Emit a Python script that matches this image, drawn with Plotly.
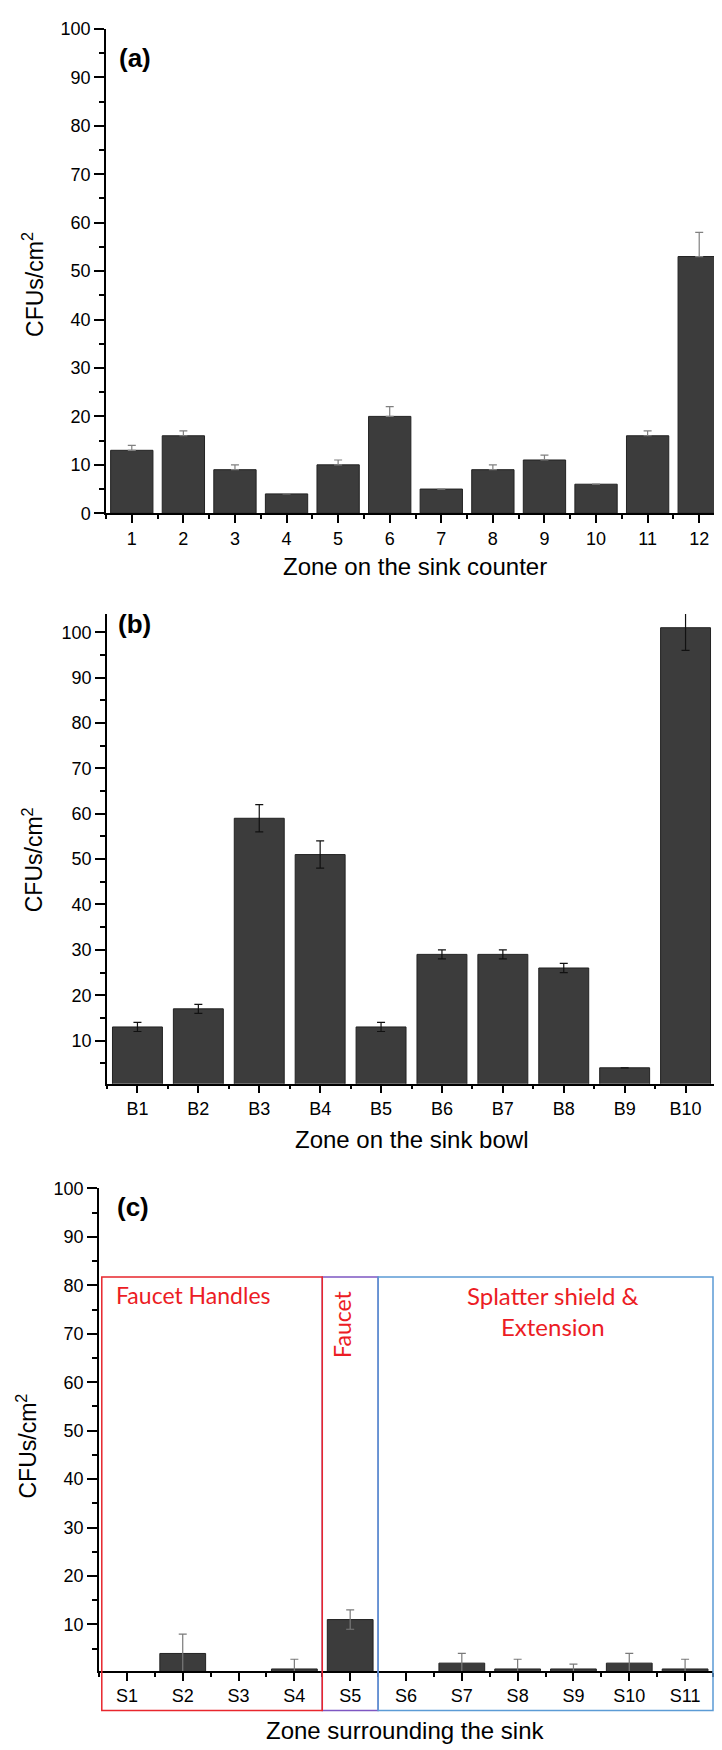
import plotly.graph_objects as go

# ---------------- data ----------------
zones_a = [str(i) for i in range(1, 13)]
cfu_a = [13, 16, 9, 4, 10, 20, 5, 9, 11, 6, 16, 53]
err_a = [1, 1, 1, None, 1, 2, None, 1, 1, None, 1, 5]

zones_b = ["B1", "B2", "B3", "B4", "B5", "B6", "B7", "B8", "B9", "B10"]
cfu_b = [13, 17, 59, 51, 13, 29, 29, 26, 4, 101]
err_b = [1, 1, 3, 3, 1, 1, 1, 1, None, 5]

zones_c = ["S1", "S2", "S3", "S4", "S5", "S6", "S7", "S8", "S9", "S10", "S11"]
cfu_c = [0, 4, 0, 0.8, 11, 0, 2, 0.8, 0.8, 2, 0.8]
err_c = [None, 4, None, 2, 2, None, 2, 2, 1, 2, 2]

group_names = ["Faucet Handles", "Faucet", "Splatter shield &<br>Extension"]
group_start = [0.55, 4.5, 5.5]
group_end = [4.5, 5.5, 11.5]
group_colors = ["#e8262d", "#7e57c2", "#5b9bd5"]

FONT = "Liberation Sans, Arial, sans-serif"
RFONT = "Lato, Open Sans, sans-serif"
BAR = "#3c3c3c"

fig = go.Figure()

def add_bars(cats, vals, errs, xa, ya, ecolor, upper_only):
    xs = list(range(1, len(cats) + 1))
    ey = dict(type="data", array=errs, color=ecolor, thickness=1.2, width=4, visible=True)
    if upper_only:
        ey["symmetric"] = False
        ey["arrayminus"] = [0 if e is not None else None for e in errs]
    fig.add_trace(go.Bar(x=xs, y=vals, xaxis=xa, yaxis=ya, width=0.82,
                         marker=dict(color=BAR, line=dict(color="#222222", width=1)),
                         error_y=ey, showlegend=False))

add_bars(zones_a, cfu_a, err_a, "x", "y", "#808080", True)
add_bars(zones_b, cfu_b, err_b, "x2", "y2", "#111111", False)
add_bars(zones_c, cfu_c, err_c, "x3", "y3", "#7a7a7a", False)

W, H = 722, 1750
def px(v):
    return v / W
def py(v):
    return 1 - v / H

def xaxis(cats, dom, anchor):
    n = len(cats)
    return dict(domain=dom, anchor=anchor, range=[0.5, n + 0.5],
                tickmode="array", tickvals=list(range(1, n + 1)), ticktext=cats,
                showline=True, linecolor="black", linewidth=1.5,
                ticks="outside", ticklen=8, tickwidth=1.5, tickcolor="black",
                minor=dict(ticks="outside", tick0=0.5, dtick=1, ticklen=4,
                           tickwidth=1.5, tickcolor="black"),
                showgrid=False, zeroline=False,
                tickfont=dict(family=FONT, size=18, color="black"))

def yaxis(rng, dom, anchor, tickvals):
    return dict(domain=dom, anchor=anchor, range=rng,
                tickmode="array", tickvals=tickvals,
                showline=True, linecolor="black", linewidth=1.5,
                ticks="outside", ticklen=10, tickwidth=1.5, tickcolor="black",
                minor=dict(ticks="outside", tick0=0, dtick=5, ticklen=5,
                           tickwidth=1.5, tickcolor="black"),
                showgrid=False, zeroline=False,
                tickfont=dict(family=FONT, size=18, color="black"))

fig.update_layout(
    width=W, height=H,
    margin=dict(l=0, r=0, t=0, b=0),
    paper_bgcolor="white", plot_bgcolor="white",
    xaxis=xaxis(zones_a, [px(98), px(717)], "y"),
    yaxis=yaxis([0, 100], [py(501), py(11)], "x", list(range(0, 101, 10))),
    xaxis2=xaxis(zones_b, [px(99), px(708)], "y2"),
    yaxis2=yaxis([0.5, 104], [py(1078), py(603)], "x2", list(range(10, 101, 10))),
    xaxis3=xaxis(zones_c, [px(91), px(705)], "y3"),
    yaxis3=yaxis([0.4, 100], [py(1672), py(1184)], "x3", list(range(10, 101, 10))),
)

ann = []
# y titles
for (xc, yc) in [(25, 270), (25, 852), (19, 1445)]:
    ann.append(dict(text="CFUs/cm<sup>2</sup>", x=px(xc), y=py(yc), xref="paper", yref="paper",
                    textangle=-90, showarrow=False, xanchor="center", yanchor="middle",
                    font=dict(family=FONT, size=23, color="black")))
# x titles
for (t, xc, yc) in [("Zone on the sink counter", 407, 555),
                    ("Zone on the sink bowl", 403, 1134),
                    ("Zone surrounding the sink", 398, 1732)]:
    ann.append(dict(text=t, x=px(xc), y=py(yc), xref="paper", yref="paper",
                    showarrow=False, xanchor="center", yanchor="middle",
                    font=dict(family=FONT, size=24, color="black")))
# panel labels
for (t, xc, yc) in [("(a)", 127, 40), ("(b)", 126, 613), ("(c)", 125, 1203)]:
    ann.append(dict(text="<b>" + t + "</b>", x=px(xc), y=py(yc), xref="paper", yref="paper",
                    showarrow=False, xanchor="center", yanchor="middle",
                    font=dict(family=FONT, size=26, color="black")))

# group boxes in panel (c)
ymin3, ymax3 = 0.4, 100
n3 = len(zones_c)
box_top = (81.7 - ymin3) / (ymax3 - ymin3)
box_bot = (-7.8 - ymin3) / (ymax3 - ymin3)
shapes = []
for i in [1, 0, 2]:
    shapes.append(dict(type="rect", xref="x3 domain", yref="y3 domain",
                       x0=(group_start[i] - 0.5) / n3, x1=(group_end[i] - 0.5) / n3,
                       y0=box_bot, y1=box_top,
                       line=dict(color=group_colors[i], width=1.5), fillcolor="rgba(0,0,0,0)"))
fig.update_layout(shapes=shapes)

TEXT_RED = "#ec1c24"
ann.append(dict(text=group_names[0], x=2.2, y=78, xref="x3", yref="y3", showarrow=False,
                xanchor="center", yanchor="middle",
                font=dict(family=RFONT, size=23, color=TEXT_RED)))
ann.append(dict(text=group_names[1], x=4.85, y=72, xref="x3", yref="y3", showarrow=False,
                textangle=-90, xanchor="center", yanchor="middle",
                font=dict(family=RFONT, size=23, color=TEXT_RED)))
ann.append(dict(text=group_names[2], x=8.63, y=74.8, xref="x3", yref="y3", showarrow=False,
                xanchor="center", yanchor="middle",
                font=dict(family=RFONT, size=24, color=TEXT_RED)))
fig.update_layout(annotations=ann)

fig.write_html("out.html")
